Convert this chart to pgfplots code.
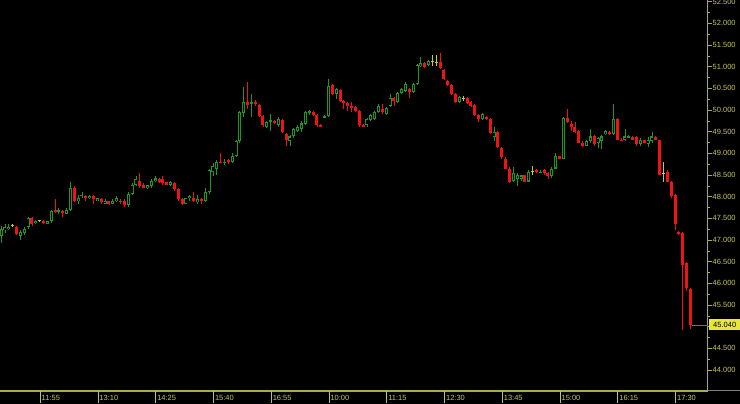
\documentclass[border=0pt]{standalone}
\usepackage{pgfplots}
\usepackage{pgfplotstable}
\usepackage{fontspec}
\setmainfont{Liberation Sans}
\pgfplotsset{compat=1.18}

\definecolor{upcol}{RGB}{34,150,34}
\definecolor{dncol}{RGB}{238,20,20}
\definecolor{dojicol}{RGB}{200,200,60}
\definecolor{axcol}{RGB}{170,170,80}
\definecolor{labcol}{RGB}{195,195,95}
\definecolor{lastcol}{RGB}{230,230,60}

% time label with its tick mark on the left
\newcommand{\tl}[1]{\rule[-3bp]{0.7bp}{12bp}\hspace{1.2bp}#1}

% candles: index, open, high, low, close
\pgfplotstableread{
x o h l c
0 47.10 47.33 46.94 47.26
1 47.22 47.36 47.17 47.31
2 47.26 47.38 47.22 47.31
5 47.10 47.24 47.01 47.19
6 47.17 47.31 47.12 47.26
7 47.31 47.52 47.26 47.50
9 47.40 47.47 47.38 47.45
12 47.38 47.45 47.36 47.43
13 47.43 47.70 47.40 47.68
15 47.66 47.75 47.61 47.70
17 47.61 47.73 47.59 47.70
18 47.70 48.33 47.68 48.19
20 47.89 48.03 47.84 47.98
21 48.01 48.10 47.98 48.05
23 47.96 48.05 47.94 48.01
25 47.91 47.98 47.89 47.96
27 47.84 47.94 47.82 47.91
29 47.84 47.94 47.82 47.91
30 47.89 48.01 47.87 47.96
33 47.80 48.10 47.77 48.07
34 48.07 48.31 48.03 48.26
35 48.26 48.47 48.24 48.40
38 48.21 48.28 48.17 48.26
39 48.24 48.40 48.21 48.37
40 48.37 48.47 48.33 48.42
44 48.28 48.37 48.24 48.33
48 47.84 47.98 47.82 47.96
49 47.96 48.03 47.89 48.01
51 47.87 48.05 47.84 47.94
53 47.89 48.19 47.87 48.10
54 48.10 48.63 48.07 48.61
55 48.58 48.77 48.47 48.72
56 48.63 48.84 48.51 48.81
58 48.77 48.86 48.72 48.81
60 48.81 49.00 48.77 48.95
61 48.93 49.30 48.91 49.28
62 49.28 49.97 49.25 49.95
63 49.93 50.53 49.83 50.18
65 50.14 50.37 49.83 50.18
69 49.60 49.74 49.58 49.72
70 49.74 49.90 49.51 49.76
72 49.65 49.83 49.62 49.79
75 49.28 49.42 49.16 49.39
76 49.39 49.58 49.35 49.56
77 49.51 49.65 49.49 49.62
78 49.56 49.74 49.49 49.69
79 49.67 49.97 49.65 49.95
80 49.93 50.00 49.88 49.97
84 49.83 49.88 49.81 49.86
85 49.86 50.71 49.83 50.55
87 50.37 50.50 50.25 50.48
95 49.65 49.81 49.62 49.79
96 49.76 49.90 49.74 49.88
97 49.79 49.97 49.76 49.95
98 49.95 50.14 49.93 50.09
100 49.90 50.07 49.88 50.04
101 50.09 50.37 50.07 50.27
103 50.18 50.41 50.16 50.39
104 50.39 50.50 50.37 50.48
105 50.44 50.64 50.41 50.60
107 50.41 50.62 50.39 50.60
108 50.60 51.06 50.57 51.04
109 51.01 51.22 50.99 51.08
111 51.04 51.15 51.01 51.13
119 50.18 50.32 50.16 50.30
125 49.79 49.93 49.76 49.90
128 49.37 49.62 49.28 49.49
133 48.37 48.68 48.33 48.54
134 48.40 48.54 48.24 48.51
135 48.40 48.51 48.37 48.49
137 48.35 48.61 48.33 48.58
140 48.56 48.61 48.54 48.58
143 48.47 48.68 48.44 48.65
144 48.65 49.02 48.63 48.93
146 48.88 49.83 48.86 49.81
152 49.18 49.30 49.16 49.28
153 49.28 49.56 49.25 49.39
155 49.23 49.37 49.12 49.35
156 49.28 49.42 49.09 49.39
157 49.44 49.53 49.42 49.51
159 49.44 50.14 49.42 49.79
162 49.30 49.56 49.28 49.39
163 49.37 49.42 49.35 49.39
166 49.21 49.35 49.18 49.32
168 49.21 49.37 49.14 49.30
169 49.28 49.49 49.25 49.39
}\upc

\pgfplotstableread{
x o h l c
4 47.31 47.33 47.12 47.15
8 47.50 47.52 47.33 47.38
11 47.45 47.47 47.38 47.40
14 47.70 47.94 47.63 47.66
16 47.68 47.70 47.52 47.63
19 48.21 48.24 47.87 47.89
22 48.01 48.03 47.91 47.98
24 48.01 48.03 47.82 47.94
26 47.94 47.96 47.84 47.87
28 47.89 47.91 47.80 47.82
31 47.91 47.94 47.84 47.87
32 47.91 47.94 47.77 47.80
36 48.37 48.54 48.21 48.24
37 48.26 48.31 48.19 48.21
41 48.40 48.44 48.31 48.33
42 48.40 48.47 48.28 48.31
43 48.33 48.35 48.26 48.28
45 48.31 48.33 48.14 48.17
46 48.17 48.19 47.91 47.94
47 47.94 47.96 47.80 47.82
50 47.96 48.10 47.87 47.89
52 47.94 47.96 47.84 47.89
57 48.81 49.00 48.77 48.79
59 48.84 48.88 48.75 48.79
64 50.18 50.64 50.02 50.11
66 50.18 50.23 50.09 50.14
67 50.11 50.14 49.83 49.86
68 49.86 49.88 49.60 49.65
71 49.74 49.76 49.67 49.69
73 49.76 49.79 49.46 49.49
74 49.44 49.46 49.16 49.32
81 49.95 49.97 49.86 49.88
82 49.88 49.90 49.62 49.65
83 49.65 49.67 49.60 49.62
86 50.57 50.60 50.34 50.37
88 50.46 50.48 50.18 50.20
89 50.20 50.23 50.02 50.16
90 50.16 50.18 49.97 50.09
91 50.09 50.18 49.95 50.04
92 50.07 50.09 49.95 49.97
93 49.97 50.00 49.62 49.65
94 49.65 49.67 49.60 49.62
99 50.02 50.14 49.90 49.95
102 50.27 50.30 50.09 50.20
106 50.48 50.50 50.27 50.41
110 51.08 51.11 50.97 50.99
114 51.11 51.32 50.94 50.97
115 50.92 50.94 50.69 50.71
116 50.67 50.69 50.55 50.57
117 50.57 50.60 50.34 50.37
118 50.37 50.39 50.16 50.18
121 50.27 50.30 50.14 50.16
122 50.18 50.20 50.07 50.09
123 50.11 50.14 49.86 49.88
124 49.88 49.90 49.72 49.79
126 49.83 49.86 49.76 49.79
127 49.79 49.81 49.44 49.46
129 49.49 49.51 49.12 49.14
130 49.12 49.14 48.88 48.91
131 48.88 48.91 48.63 48.65
132 48.65 48.68 48.31 48.33
136 48.49 48.51 48.33 48.35
139 48.61 48.63 48.54 48.56
141 48.61 48.63 48.51 48.54
142 48.54 48.56 48.40 48.47
145 48.93 48.95 48.86 48.88
147 49.81 50.02 49.69 49.72
148 49.67 49.74 49.51 49.60
149 49.60 49.72 49.46 49.49
150 49.51 49.53 49.23 49.25
151 49.25 49.28 49.14 49.16
154 49.39 49.42 49.18 49.21
158 49.49 49.51 49.42 49.44
160 49.79 49.81 49.30 49.32
161 49.32 49.35 49.28 49.30
164 49.37 49.39 49.30 49.32
165 49.37 49.39 49.18 49.21
167 49.30 49.32 49.23 49.25
170 49.37 49.39 49.30 49.32
171 49.30 49.32 48.49 48.51
173 48.58 48.61 48.33 48.35
174 48.35 48.37 47.98 48.01
175 48.05 48.07 47.24 47.36
176 47.19 47.21 47.12 47.15
177 47.17 47.19 44.93 46.43
178 46.48 46.50 45.82 45.90
179 45.87 45.90 44.95 45.04
}\dnc

\pgfplotstableread{
x o h l c
3 47.33 47.38 47.29 47.33
10 47.45 47.47 47.43 47.45
112 51.13 51.27 51.01 51.13
113 51.11 51.27 51.01 51.11
120 50.27 50.32 50.20 50.27
138 48.58 48.70 48.51 48.58
172 48.54 48.79 48.33 48.54
}\dojic

\begin{document}
\begin{tikzpicture}
\fill[black] (0,0) rectangle (740bp,404bp);
\useasboundingbox (0,0) rectangle (740bp,404bp);
\begin{axis}[
    at={(0,13bp)}, anchor=south west,
    scale only axis, width=707.5bp, height=391bp,
    xmin=-0.29, xmax=183.43, ymin=43.515, ymax=52.54,
    clip mode=individual,
    axis background/.style={fill=black},
    axis x line*=bottom, axis y line*=right,
    axis line style={draw=axcol, line width=1.2bp},
    tick align=outside,
    major tick length=4bp, minor tick length=2bp,
    xtick={10,25,40,55,70,85,100,115,130,145,160,175},
    xticklabels={\tl{11:55},\tl{13:10},\tl{14:25},\tl{15:40},\tl{16:55},\tl{10:00},\tl{11:15},\tl{12:30},\tl{13:45},\tl{15:00},\tl{16:15},\tl{17:30}},
    xtick style={draw=none},
    xticklabel style={anchor=north west, inner sep=0pt, yshift=4bp, text=labcol, font=\fontsize{7.5bp}{9bp}\selectfont},
    % 45.000 sits under the last-price box
    ytick={44,44.5,45.5,46,46.5,47,47.5,48,48.5,49,49.5,50,50.5,51,51.5,52,52.5},
    minor ytick={44.25,44.75,45,45.25,45.75,46.25,46.75,47.25,47.75,48.25,48.75,49.25,49.75,50.25,50.75,51.25,51.75,52.25},
    ytick style={draw=axcol, line width=0.6bp},
    yticklabel style={anchor=west, inner sep=1bp, text=labcol, font=\fontsize{7.5bp}{9bp}\selectfont,
        /pgf/number format/fixed, /pgf/number format/fixed zerofill,
        /pgf/number format/precision=3, /pgf/number format/assume math mode=true},
]
% wicks
\addplot[draw=none, mark=none, error bars/.cd, y dir=both, y explicit, error mark=none,
    error bar style={draw=upcol, line width=0.8bp}]
    table[x=x, y expr={(\thisrow{h}+\thisrow{l})/2}, y error expr={(\thisrow{h}-\thisrow{l})/2}] {\upc};
\addplot[draw=none, mark=none, error bars/.cd, y dir=both, y explicit, error mark=none,
    error bar style={draw=dncol, line width=0.8bp}]
    table[x=x, y expr={(\thisrow{h}+\thisrow{l})/2}, y error expr={(\thisrow{h}-\thisrow{l})/2}] {\dnc};
\addplot[draw=none, mark=none, error bars/.cd, y dir=both, y explicit, error mark=none,
    error bar style={draw=dojicol, line width=0.8bp}]
    table[x=x, y expr={(\thisrow{h}+\thisrow{l})/2}, y error expr={(\thisrow{h}-\thisrow{l})/2}] {\dojic};
% bodies
\addplot[draw=none, mark=none, error bars/.cd, y dir=both, y explicit, error mark=none,
    error bar style={draw=upcol, line width=3bp}]
    table[x=x, y expr={(\thisrow{o}+\thisrow{c})/2}, y error expr={abs(\thisrow{c}-\thisrow{o})/2}] {\upc};
\addplot[draw=none, mark=none, error bars/.cd, y dir=both, y explicit, error mark=none,
    error bar style={draw=black, line width=1.2bp}]
    table[x=x, y expr={(\thisrow{o}+\thisrow{c})/2}, y error expr={max(abs(\thisrow{c}-\thisrow{o})/2-0.024,0)}] {\upc};
\addplot[draw=none, mark=none, error bars/.cd, y dir=both, y explicit, error mark=none,
    error bar style={draw=dncol, line width=3bp}]
    table[x=x, y expr={(\thisrow{o}+\thisrow{c})/2}, y error expr={abs(\thisrow{c}-\thisrow{o})/2}] {\dnc};
\addplot[only marks, mark=-, mark size=1.6bp, mark options={draw=dojicol, line width=0.9bp}]
    table[x=x, y=c] {\dojic};
% last price
\draw[draw=upcol!60!gray, line width=0.8bp] (axis cs:179.3,45.04) -- (axis cs:183.43,45.04);
\node[fill=lastcol, text=black, anchor=west, inner sep=0pt, minimum height=11bp, minimum width=31bp,
    font=\fontsize{7.5bp}{9bp}\selectfont, xshift=1.5bp] at (axis cs:183.43,45.04) {45.040};
\end{axis}
\draw[draw=gray, line width=1bp] (707.5bp,13bp) -- (740bp,13bp);
\end{tikzpicture}
\end{document}
